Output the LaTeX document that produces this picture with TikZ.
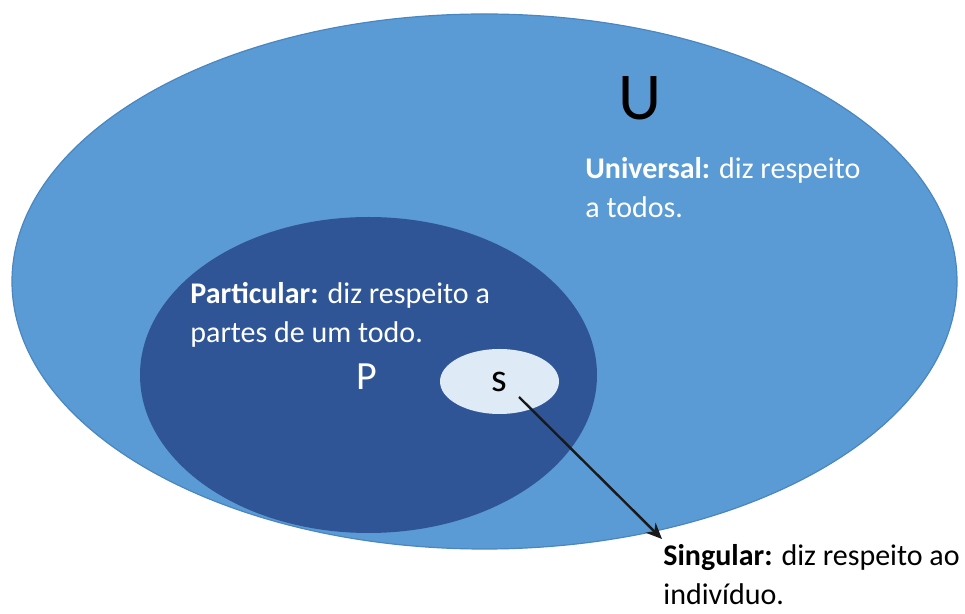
\documentclass[tikz,border=0pt]{standalone}
\usepackage{fontspec}
\setmainfont{Carlito}
\usetikzlibrary{shapes.geometric,arrows.meta}

\definecolor{azulclaro}{HTML}{5B9BD5}
\definecolor{azulborda}{HTML}{4A86C0}
\definecolor{azulescuro}{HTML}{2F5597}
\definecolor{azulpalido}{HTML}{DEEBF7}

\begin{document}
\begin{tikzpicture}[x=0.5pt,y=-0.5pt,
  conjunto/.style={ellipse,inner sep=0pt},
  rotulo/.style={anchor=north west,inner sep=0pt,align=left,
    font=\fontsize{15}{19.5}\selectfont},
  letra/.style={anchor=base,inner sep=0pt}]
  \useasboundingbox (0,0) rectangle (965,614);

  % conjuntos
  \node[conjunto,fill=azulclaro,draw=azulborda,line width=0.6pt,
    minimum width=472.5pt,minimum height=267.5pt] (U) at (484.5,281.5) {};
  \node[conjunto,fill=azulescuro,minimum width=228.5pt,minimum height=158pt]
    (P) at (368.5,375) {};
  \node[conjunto,fill=azulpalido,minimum width=59.5pt,minimum height=32.5pt,
    font=\fontsize{20}{24}\selectfont] (s) at (499.5,381.5) {s};

  % letras
  \node[letra,font=\fontsize{33.5}{40}\selectfont] (letraU) at (640,120) {U};
  \node[letra,white,font=\fontsize{20}{24}\selectfont] (letraP) at (367,390) {P};

  % textos
  \node[rotulo,white] (universal) at (585,157)
    {\textbf{Universal:} diz respeito\\a todos.};
  \node[rotulo,white] (particular) at (190,282)
    {\textbf{Particular:} diz respeito a\\partes de um todo.};
  \node[rotulo] (singular) at (663,544)
    {\textbf{Singular:} diz respeito ao\\indivíduo.};

  % seta
  \coordinate (ponta) at (662,539);
  \draw[line width=1.2pt,black!90,-{Stealth[length=8pt,width=7pt]}]
    ([shift={(19.5,15.5)}]s.center) -- (ponta);
\end{tikzpicture}
\end{document}
